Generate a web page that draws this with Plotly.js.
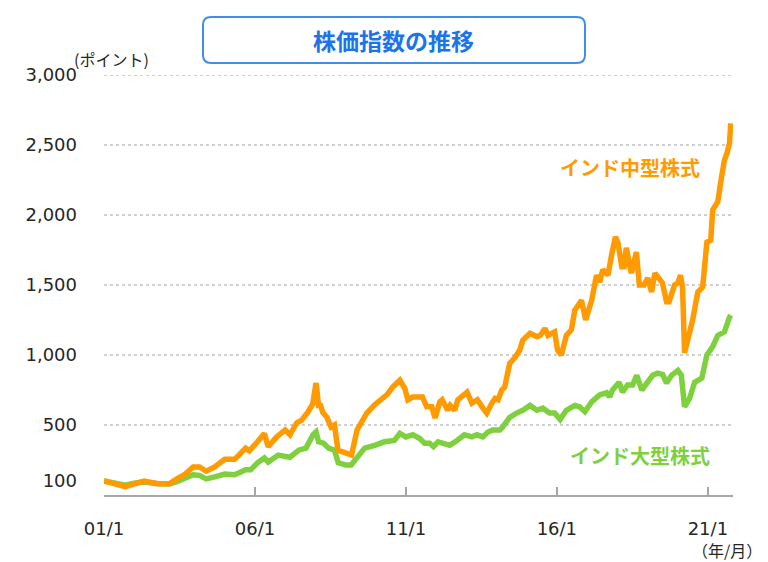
<!DOCTYPE html>
<html><head><meta charset="utf-8">
<script src="https://cdn.plot.ly/plotly-3.0.1.min.js"></script>
<style>html,body{margin:0;padding:0;background:#fff;}#chart{width:768px;height:562px;}</style>
</head><body><div id="chart"></div>
<script>
// インド中型株式 (mid cap)
const midDates = ["2001-01-01","2001-04-01","2001-09-15","2002-01-01","2002-05-01","2002-10-15","2003-03-01","2003-06-01","2003-09-01","2003-12-15","2004-03-01","2004-05-20","2004-09-01","2005-01-01","2005-05-01","2005-09-10","2005-10-25","2006-02-01","2006-04-25","2006-06-10","2006-09-20","2007-01-01","2007-03-01","2007-05-20","2007-07-20","2007-10-01","2007-12-01","2008-01-10","2008-02-10","2008-03-05","2008-04-01","2008-05-20","2008-07-10","2008-08-20","2008-10-01","2008-11-20","2009-02-10","2009-03-15","2009-05-20","2009-07-20","2009-09-15","2009-12-20","2010-03-15","2010-05-15","2010-07-25","2010-10-20","2010-12-20","2011-01-25","2011-03-25","2011-07-20","2011-09-10","2011-11-10","2011-12-20","2012-02-15","2012-03-15","2012-05-20","2012-06-20","2012-08-15","2012-09-20","2012-11-05","2013-01-10","2013-03-10","2013-05-15","2013-07-10","2013-09-05","2013-11-05","2013-12-15","2014-01-20","2014-03-05","2014-04-10","2014-06-10","2014-08-10","2014-10-10","2014-11-15","2015-02-10","2015-05-05","2015-06-15","2015-08-10","2015-09-15","2015-12-05","2016-01-10","2016-02-25","2016-04-25","2016-06-25","2016-08-05","2016-10-01","2016-10-25","2016-12-15","2017-02-25","2017-04-25","2017-06-01","2017-07-10","2017-09-10","2017-10-25","2017-12-10","2018-01-10","2018-02-25","2018-03-25","2018-04-20","2018-06-20","2018-08-20","2018-09-25","2018-11-20","2019-01-05","2019-02-20","2019-04-01","2019-05-25","2019-07-01","2019-08-20","2019-09-20","2019-11-25","2020-01-05","2020-02-05","2020-03-01","2020-03-25","2020-05-25","2020-07-01","2020-09-01","2020-10-30","2020-12-20","2021-02-05","2021-02-28","2021-05-01","2021-06-15","2021-07-20","2021-08-25","2021-09-20","2021-10-05"];
const midValues = [100,85,60,80,100,80,80,115,145,200,200,170,200,255,255,335,315,380,440,345,415,465,430,515,535,590,650,800,640,640,590,555,485,500,320,310,285,285,465,520,585,645,680,715,770,820,760,680,700,700,630,630,550,665,680,605,640,605,680,700,735,655,680,630,585,655,690,680,750,770,940,980,1035,1105,1155,1130,1140,1190,1140,1165,1035,1000,1140,1180,1320,1370,1390,1250,1390,1570,1520,1610,1570,1715,1845,1800,1630,1630,1765,1585,1735,1500,1500,1550,1450,1585,1550,1515,1380,1380,1500,1515,1570,1480,1015,1140,1250,1450,1485,1805,1820,2035,2095,2270,2390,2450,2515,2655];

// インド大型株式 (large cap)
const largeDates = ["2001-01-01","2001-04-01","2001-09-15","2002-01-01","2002-05-01","2002-10-15","2003-03-01","2003-06-01","2003-09-01","2003-12-15","2004-03-01","2004-05-20","2004-09-01","2005-01-01","2005-05-01","2005-09-10","2005-11-10","2006-02-01","2006-04-25","2006-06-10","2006-10-10","2007-03-01","2007-06-15","2007-09-10","2007-12-05","2008-01-10","2008-02-10","2008-04-10","2008-06-10","2008-08-20","2008-10-05","2009-01-01","2009-03-10","2009-05-20","2009-08-20","2009-12-20","2010-04-15","2010-08-15","2010-10-20","2011-01-01","2011-03-25","2011-06-15","2011-08-15","2011-10-15","2011-12-01","2012-01-25","2012-04-15","2012-06-15","2012-09-10","2012-12-10","2013-03-10","2013-05-10","2013-07-20","2013-09-20","2013-11-15","2014-02-10","2014-03-15","2014-06-10","2014-09-01","2014-11-15","2015-02-10","2015-05-05","2015-07-15","2015-10-05","2015-12-05","2016-02-10","2016-04-25","2016-08-05","2016-10-01","2016-12-05","2017-02-25","2017-06-01","2017-08-25","2017-10-01","2017-11-05","2018-01-25","2018-03-05","2018-05-05","2018-07-05","2018-08-25","2018-10-25","2018-12-25","2019-03-05","2019-05-05","2019-07-05","2019-08-20","2019-10-20","2020-01-05","2020-02-15","2020-03-25","2020-05-25","2020-07-25","2020-10-20","2020-12-20","2021-02-28","2021-05-01","2021-07-20","2021-09-20","2021-10-05"];
const largeValues = [100,90,70,85,92,80,78,95,115,145,140,115,130,150,145,180,180,230,265,235,285,270,320,335,430,450,380,370,335,320,230,215,215,270,335,355,380,390,440,415,430,405,370,370,345,380,370,355,390,430,415,430,415,450,465,465,485,555,585,605,640,605,620,585,585,540,605,640,630,595,665,715,730,700,750,805,735,785,785,855,750,800,855,870,860,800,855,890,855,630,690,805,835,1000,1060,1140,1165,1270,1285];

const xTickVals = ["2001-01-01","2006-01-01","2011-01-01","2016-01-01","2021-01-01"];
const xTickText = ["01/1","06/1","11/1","16/1","21/1"];
const yTickVals = [100,500,1000,1500,2000,2500,3000];
const gridVals = [500,1000,1500,2000,2500,3000];

const ORANGE = "#FF9A00", GREEN = "#7ED03F", BLUE = "#1C74E6";
const jp = "'Noto Sans CJK JP', 'Noto Sans', sans-serif";
const num = "'DejaVu Sans', sans-serif";

const traces = [
  {x: largeDates, y: largeValues, type: "scatter", mode: "lines", name: "インド大型株式",
   line: {color: GREEN, width: 5.5}, hoverinfo: "skip"},
  {x: midDates, y: midValues, type: "scatter", mode: "lines", name: "インド中型株式",
   line: {color: ORANGE, width: 5.5}, hoverinfo: "skip"}
];

// rounded title box in paper coords
const bx0 = 0.1574, bx1 = 0.7647, by0 = 1.0286, by1 = 1.138, rx = 0.0127, ry = 0.019;
const boxPath = `M ${bx0+rx},${by1} L ${bx1-rx},${by1} Q ${bx1},${by1} ${bx1},${by1-ry} L ${bx1},${by0+ry} Q ${bx1},${by0} ${bx1-rx},${by0} L ${bx0+rx},${by0} Q ${bx0},${by0} ${bx0},${by0+ry} L ${bx0},${by1-ry} Q ${bx0},${by1} ${bx0+rx},${by1} Z`;

const shapes = gridVals.map(v => ({type: "line", xref: "paper", x0: 0, x1: 1, yref: "y", y0: v, y1: v,
  line: {color: "#A0A0A0", width: 1, dash: "dot"}, layer: "below"}));
shapes.push({type: "path", xref: "paper", yref: "paper", path: boxPath,
  line: {color: "#3F8FEA", width: 2}, fillcolor: "#FFFFFF", layer: "above"});

const layout = {
  width: 768, height: 562,
  margin: {l: 104, r: 35, t: 75, b: 67},
  paper_bgcolor: "#FFFFFF", plot_bgcolor: "#FFFFFF",
  showlegend: false,
  xaxis: {type: "date", range: ["2001-01-01", "2021-11-01"],
    tickvals: xTickVals, ticktext: xTickText,
    ticks: "inside", ticklen: 8, tickwidth: 1.5, tickcolor: "#A6A6A6",
    showline: true, linecolor: "#A6A6A6", linewidth: 1.5, showgrid: false, zeroline: false,
    ticklabelstandoff: 17,
    tickfont: {family: num, size: 18, color: "#262626"}},
  yaxis: {range: [0, 3000], tickvals: yTickVals, tickformat: ",d",
    showgrid: false, zeroline: false, showline: false, ticks: "",
    ticklabelstandoff: 26,
    tickfont: {family: num, size: 18, color: "#262626"}},
  shapes: shapes,
  annotations: [
    {text: "<b>株価指数の推移</b>", xref: "paper", yref: "paper", x: 0.461, y: 1.083,
     xanchor: "center", yanchor: "middle", showarrow: false,
     font: {family: jp, size: 23, color: BLUE}},
    {text: "(ポイント)", xref: "paper", yref: "paper", x: 0.012, y: 1.038,
     xanchor: "center", yanchor: "middle", showarrow: false,
     font: {family: jp, size: 16, color: "#262626"}},
    {text: "（年/月）", xref: "paper", yref: "paper", x: 0.99, y: -0.132,
     xanchor: "center", yanchor: "middle", showarrow: false,
     font: {family: jp, size: 16, color: "#262626"}},
    {text: "<b>インド中型株式</b>", xref: "paper", yref: "paper", x: 0.836, y: 0.779,
     xanchor: "center", yanchor: "middle", showarrow: false,
     font: {family: jp, size: 20, color: ORANGE}},
    {text: "<b>インド大型株式</b>", xref: "paper", yref: "paper", x: 0.852, y: 0.095,
     xanchor: "center", yanchor: "middle", showarrow: false,
     font: {family: jp, size: 20, color: GREEN}}
  ]
};

Plotly.newPlot("chart", traces, layout, {staticPlot: true, displayModeBar: false});
</script>
</body></html>
